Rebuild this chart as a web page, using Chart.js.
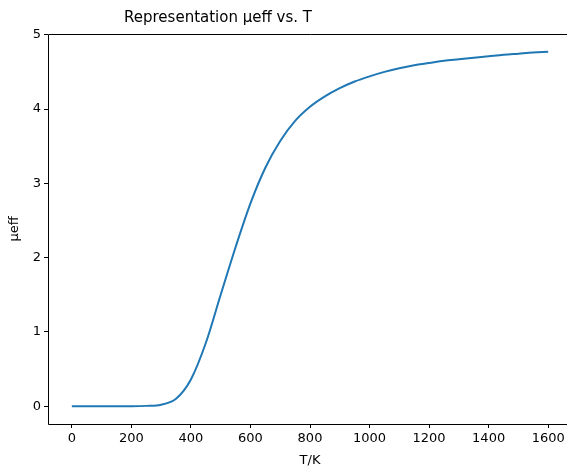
<!DOCTYPE html>
<html>
<head>
<meta charset="utf-8">
<script src="https://cdn.jsdelivr.net/npm/chart.js@4"></script>
<style>
  html, body { margin: 0; padding: 0; background: #fff; overflow: hidden; }
  #wrap { width: 575px; height: 468px; }
</style>
</head>
<body>
<div id="wrap"><canvas id="chart" width="575" height="468"></canvas></div>
<script>
// temperatures (K) and effective magnetic moment
const temps = [0, 50, 100, 150, 200, 250, 300, 350, 400, 450, 500, 550, 600, 650,
  700, 750, 800, 850, 900, 950, 1000, 1050, 1100, 1150, 1200, 1250, 1300, 1350,
  1400, 1450, 1500, 1550, 1600];
const mueff = [0, 0, 0, 0, 0, 0.004, 0.02, 0.1, 0.36, 0.85, 1.5, 2.14, 2.73, 3.21,
  3.57, 3.84, 4.03, 4.17, 4.28, 4.37, 4.44, 4.5, 4.55, 4.59, 4.62, 4.65, 4.67, 4.69,
  4.71, 4.73, 4.745, 4.76, 4.77];

const xTicks = [0, 200, 400, 600, 800, 1000, 1200, 1400, 1600];
const yTicks = [0, 1, 2, 3, 4, 5];

const font = "DejaVu Sans";

// spines and the title, matplotlib style
const frame = {
  id: "frame",
  afterDraw(chart) {
    const { ctx, chartArea: a } = chart;
    ctx.save();
    ctx.strokeStyle = "#000";
    ctx.lineWidth = 1;
    ctx.beginPath();
    ctx.moveTo(a.left + 0.5, a.top + 0.5);
    ctx.lineTo(a.right, a.top + 0.5);
    ctx.moveTo(a.left + 0.5, a.top + 0.5);
    ctx.lineTo(a.left + 0.5, a.bottom + 0.5);
    ctx.lineTo(a.right, a.bottom + 0.5);
    ctx.stroke();
    ctx.fillStyle = "#000";
    ctx.font = "15px '" + font + "'";
    ctx.textAlign = "center";
    ctx.textBaseline = "middle";
    ctx.fillText("Representation \u03bceff vs. T", 218, 18);
    ctx.restore();
  }
};

new Chart(document.getElementById("chart"), {
  type: "line",
  data: {
    datasets: [{
      data: temps.map((t, i) => ({ x: t, y: mueff[i] })),
      borderColor: "#1f77b4",
      borderWidth: 2,
      pointRadius: 0,
      fill: false,
      cubicInterpolationMode: "monotone"
    }]
  },
  options: {
    responsive: false,
    animation: false,
    layout: { padding: { top: 34, right: 3, left: 0, bottom: 0 } },
    plugins: { legend: { display: false }, tooltip: { enabled: false } },
    scales: {
      x: {
        type: "linear",
        min: -80,
        max: 1680,
        afterBuildTicks: s => { s.ticks = xTicks.map(v => ({ value: v })); },
        afterFit: s => { s.height = 44; },
        border: { display: false },
        grid: { drawOnChartArea: false, drawTicks: true, tickLength: 4, color: "#000" },
        ticks: { color: "#000", padding: 3, maxRotation: 0, callback: v => String(v),
          font: { family: font, size: 13 } },
        title: { display: true, text: "T/K", color: "#000", padding: { top: 0, bottom: 0 },
          font: { family: font, size: 13 } }
      },
      y: {
        min: -0.24,
        max: 5.01,
        afterBuildTicks: s => { s.ticks = yTicks.map(v => ({ value: v })); },
        afterFit: s => { s.width = 48; },
        border: { display: false },
        grid: { drawOnChartArea: false, drawTicks: true, tickLength: 4, color: "#000" },
        ticks: { color: "#000", padding: 3, callback: v => String(v),
          font: { family: font, size: 13 } },
        title: { display: true, text: "\u03bceff", color: "#000", padding: { top: 7, bottom: 0 },
          font: { family: font, size: 13 } }
      }
    }
  },
  plugins: [frame]
});
</script>
</body>
</html>
